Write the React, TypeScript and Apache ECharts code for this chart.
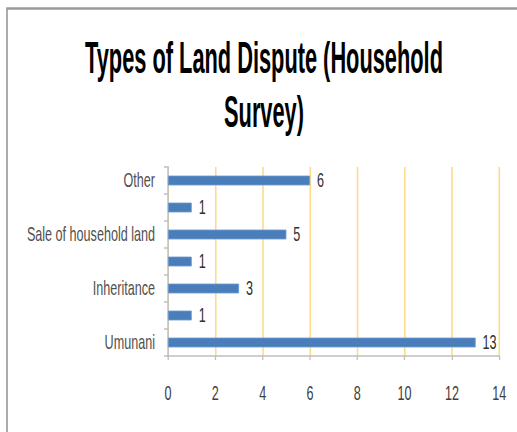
import React, { useEffect, useRef } from "react";
import * as echarts from "echarts";

const categories = ["Umunani", " ", "Inheritance", "  ", "Sale of household land", "   ", "Other"];
const values = [13, 1, 3, 1, 5, 1, 6];
const xMin = 0;
const xMax = 14;
const xInterval = 2;
const titleText = "Types of Land Dispute (Household\nSurvey)";

const FONT = "'Liberation Sans', Arial, sans-serif";
const W = 517;
const H = 432;
const SX = 0.63; // horizontal squeeze of the whole picture
const PW = W / SX;
const px = (v: number) => v / SX;

export default function App() {
  const ref = useRef<HTMLDivElement>(null);
  useEffect(() => {
    if (!ref.current) return;
    const chart = echarts.init(ref.current, null, { renderer: "svg" });
    chart.setOption({
      animation: false,
      backgroundColor: "#ffffff",
      graphic: [
        {
          type: "rect",
          shape: { x: px(7), y: 8.5, width: PW, height: 480 },
          style: { fill: "none", stroke: "#9a9a9a", lineWidth: 2.6 },
          silent: true,
        },
        {
          type: "text",
          x: px(264),
          y: 30,
          scaleY: 1.3,
          style: {
            text: titleText,
            font: `bold 34.6px ${FONT}`,
            fill: "#000000",
            textAlign: "center",
            textVerticalAlign: "top",
            lineHeight: 41.5,
          },
        },
      ],
      grid: {
        left: px(168),
        right: PW - px(499),
        top: 167,
        bottom: H - 356,
        containLabel: false,
        outerBoundsMode: "none",
      },
      xAxis: {
        type: "value",
        min: xMin,
        max: xMax,
        interval: xInterval,
        axisLine: { show: true, lineStyle: { color: "#bfbfbf", width: 1.5 } },
        axisTick: { show: true, length: 4, lineStyle: { color: "#bfbfbf", width: 2 } },
        axisLabel: { margin: 27, color: "#404040", fontFamily: FONT, fontSize: 20 },
        splitLine: { show: true, lineStyle: { color: "#fbdc8a", width: 2.5 } },
      },
      yAxis: {
        type: "category",
        data: categories,
        axisLine: { show: true, lineStyle: { color: "#bfbfbf", width: 2 } },
        axisTick: { show: true, length: px(4), lineStyle: { color: "#bfbfbf", width: 1.5 } },
        axisLabel: { margin: px(13), color: "#505050", fontFamily: FONT, fontSize: 20, interval: 0 },
        splitLine: { show: false },
      },
      series: [
        {
          type: "bar",
          data: values,
          barWidth: 10,
          itemStyle: { color: "#4a7ebb", borderColor: "#7099cc", borderWidth: 1 },
          label: {
            show: true,
            position: "right",
            distance: px(7),
            color: "#303030",
            fontFamily: FONT,
            fontSize: 20,
          },
        },
      ],
    });
    return () => chart.dispose();
  }, []);
  return (
    <div style={{ position: "absolute", left: 0, top: 0, width: W, height: H, overflow: "hidden" }}>
      <div
        ref={ref}
        style={{
          width: PW,
          height: H,
          transform: `scaleX(${SX})`,
          transformOrigin: "0 0",
        }}
      />
    </div>
  );
}
